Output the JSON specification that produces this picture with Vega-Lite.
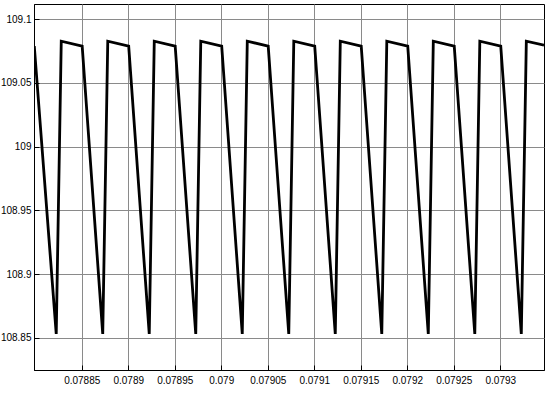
{
  "$schema": "https://vega.github.io/schema/vega-lite/v6.json",
  "width": 510,
  "height": 366,
  "autosize": {"type": "none"},
  "padding": {"left": 34, "top": 4, "right": 10, "bottom": 24},
  "background": "white",
  "config": {
    "view": {"stroke": "black", "strokeWidth": 1},
    "axis": {
      "labelFont": "Liberation Sans",
      "labelFontSize": 10,
      "labelColor": "black",
      "gridColor": "#8a8a8a",
      "gridWidth": 1,
      "gridOpacity": 1,
      "domainColor": "black",
      "tickColor": "black",
      "ticks": true,
      "tickSize": -5,
      "title": null
    }
  },
  "data": {
    "values": [
      {"t": 0.0787990, "v": 109.0790},
      {"t": 0.0788226, "v": 108.8530},
      {"t": 0.0788280, "v": 109.0828},
      {"t": 0.0788505, "v": 109.0790},
      {"t": 0.0788726, "v": 108.8530},
      {"t": 0.0788780, "v": 109.0828},
      {"t": 0.0789005, "v": 109.0790},
      {"t": 0.0789226, "v": 108.8530},
      {"t": 0.0789280, "v": 109.0828},
      {"t": 0.0789505, "v": 109.0790},
      {"t": 0.0789726, "v": 108.8530},
      {"t": 0.0789780, "v": 109.0828},
      {"t": 0.0790005, "v": 109.0790},
      {"t": 0.0790226, "v": 108.8530},
      {"t": 0.0790280, "v": 109.0828},
      {"t": 0.0790505, "v": 109.0790},
      {"t": 0.0790726, "v": 108.8530},
      {"t": 0.0790780, "v": 109.0828},
      {"t": 0.0791005, "v": 109.0790},
      {"t": 0.0791226, "v": 108.8530},
      {"t": 0.0791280, "v": 109.0828},
      {"t": 0.0791505, "v": 109.0790},
      {"t": 0.0791726, "v": 108.8530},
      {"t": 0.0791780, "v": 109.0828},
      {"t": 0.0792005, "v": 109.0790},
      {"t": 0.0792226, "v": 108.8530},
      {"t": 0.0792280, "v": 109.0828},
      {"t": 0.0792505, "v": 109.0790},
      {"t": 0.0792726, "v": 108.8530},
      {"t": 0.0792780, "v": 109.0828},
      {"t": 0.0793005, "v": 109.0790},
      {"t": 0.0793226, "v": 108.8530},
      {"t": 0.0793280, "v": 109.0828},
      {"t": 0.0793470, "v": 109.0797}
    ]
  },
  "mark": {"type": "line", "color": "black", "strokeWidth": 2.8, "clip": true, "strokeJoin": "miter"},
  "encoding": {
    "x": {
      "field": "t",
      "type": "quantitative",
      "scale": {"domain": [0.0787987, 0.079347], "nice": false, "zero": false},
      "axis": {
        "values": [0.07885, 0.0789, 0.07895, 0.079, 0.07905, 0.0791, 0.07915, 0.0792, 0.07925, 0.0793],
        "format": "~r",
        "labelPadding": 10,
        "labelFlush": false,
        "labelOverlap": false
      }
    },
    "y": {
      "field": "v",
      "type": "quantitative",
      "scale": {"domain": [108.8247, 109.112], "nice": false, "zero": false},
      "axis": {
        "values": [108.85, 108.9, 108.95, 109, 109.05, 109.1],
        "format": "~r",
        "labelPadding": 8,
        "labelFlush": false,
        "labelOverlap": false
      }
    }
  }
}
